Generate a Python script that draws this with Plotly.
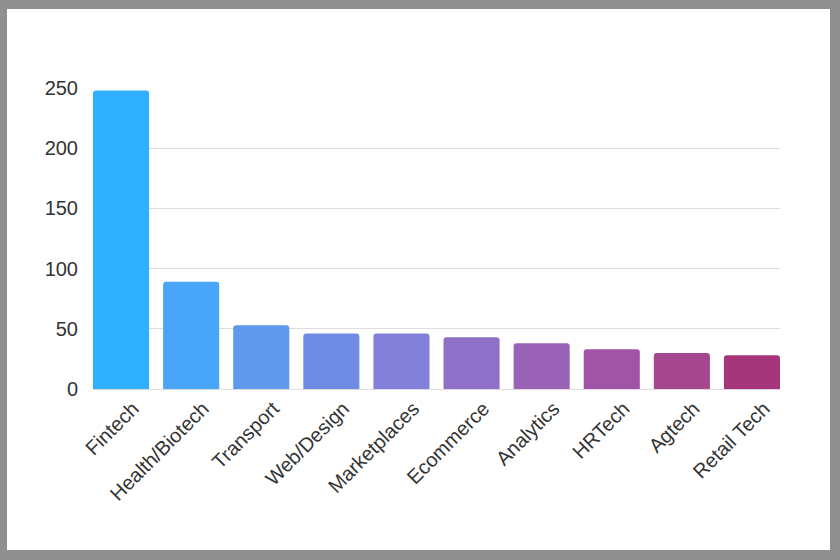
import plotly.graph_objects as go

categories = ["Fintech", "Health/Biotech", "Transport", "Web/Design", "Marketplaces",
              "Ecommerce", "Analytics", "HRTech", "Agtech", "Retail Tech"]
values = [248, 89, 53, 46, 46, 43, 38, 33, 30, 28]
bar_colors = ["#2EB0FE", "#48A5F8", "#5F99EE", "#708BE4", "#8380DA",
              "#8F70C8", "#9A63B8", "#A153A6", "#A6468F", "#A5367B"]
y_ticks = [0, 50, 100, 150, 200, 250]

fig = go.Figure(go.Bar(
    x=categories, y=values,
    marker=dict(color=bar_colors, line=dict(width=0), cornerradius=3),
    hoverinfo="x+y",
))

W, H = 840, 560
ml, mr, mt, mb = 93, 60, 88, 171
pw, ph = W - ml - mr, H - mt - mb

# gray frame around the white card (left 7px, top 9px, right 10px, bottom 10px)
fl, ft, fr, fb = 7, 9, 10, 10
lw = 20

fig.update_layout(
    width=W, height=H,
    margin=dict(l=ml, r=mr, t=mt, b=mb, pad=0),
    paper_bgcolor="#ffffff", plot_bgcolor="#ffffff",
    bargap=0.2, showlegend=False,
    font=dict(family="Liberation Sans, Arial, sans-serif", size=20, color="#333333"),
    xaxis=dict(range=[-0.4, len(categories) - 0.6], tickangle=-45, showgrid=False,
               showline=False, zeroline=False, ticks="", ticklabelshift=12,
               ticklabelstandoff=3, tickfont=dict(size=20, color="#333333")),
    yaxis=dict(range=[0, 250], tickvals=y_ticks, showgrid=True, gridcolor="#dddddd",
               gridwidth=1, zeroline=True, zerolinecolor="#dddddd", zerolinewidth=1,
               showline=False, ticks="", ticklabelstandoff=14,
               tickfont=dict(size=20, color="#333333")),
    shapes=[dict(type="rect", xref="paper", yref="paper", layer="above",
                 x0=(fl - lw / 2 - ml) / pw, x1=(W - fr + lw / 2 - ml) / pw,
                 y0=-(mb - fb + lw / 2) / ph, y1=(H - mb - ft + lw / 2) / ph,
                 line=dict(color="#8f8f8f", width=lw), fillcolor="rgba(0,0,0,0)")],
)

fig.write_html("out.html", config={"displayModeBar": False},
               post_script="document.body.style.margin='0px';document.body.style.overflow='hidden';")
